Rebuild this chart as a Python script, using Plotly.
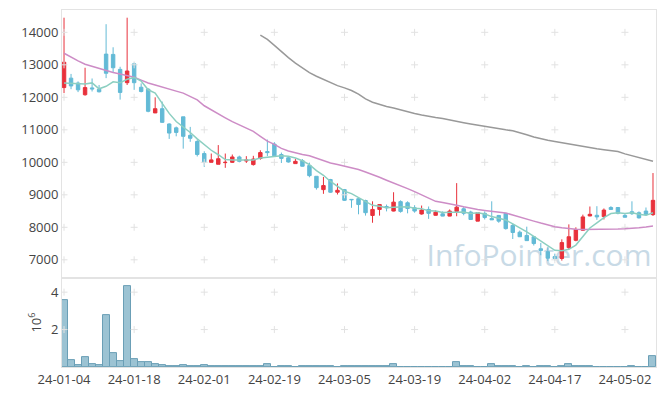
import plotly.graph_objects as go

dates = [
    "24-01-04","24-01-05","24-01-08","24-01-09","24-01-10","24-01-11","24-01-12","24-01-15","24-01-16","24-01-17",
    "24-01-18","24-01-19","24-01-22","24-01-23","24-01-24","24-01-25","24-01-26","24-01-29","24-01-30","24-01-31",
    "24-02-01","24-02-02","24-02-05","24-02-06","24-02-07","24-02-08","24-02-13","24-02-14","24-02-15","24-02-16",
    "24-02-19","24-02-20","24-02-21","24-02-22","24-02-23","24-02-26","24-02-27","24-02-28","24-02-29","24-03-04",
    "24-03-05","24-03-06","24-03-07","24-03-08","24-03-11","24-03-12","24-03-13","24-03-14","24-03-15","24-03-18",
    "24-03-19","24-03-20","24-03-21","24-03-22","24-03-25","24-03-26","24-03-27","24-03-28","24-03-29","24-04-01",
    "24-04-02","24-04-03","24-04-04","24-04-05","24-04-08","24-04-09","24-04-11","24-04-12","24-04-15","24-04-16",
    "24-04-17","24-04-18","24-04-19","24-04-22","24-04-23","24-04-24","24-04-25","24-04-26","24-04-29","24-04-30",
    "24-05-02","24-05-03","24-05-07","24-05-08","24-05-09",
]

opens = [12300,12590,12440,12080,12290,12250,13330,13320,12860,12450,
         13030,12310,12250,11520,11650,11180,11060,11400,10830,10640,
         10270,10000,9940,9990,10000,10165,10040,9930,10120,10330,
         10560,10240,10140,9960,10050,9900,9570,9160,9470,9080,
         9160,8860,8880,8825,8365,8550,8640,8500,8790,8755,
         8600,8410,8550,8370,8415,8345,8490,8570,8470,8190,
         8430,8270,8365,8430,8060,7850,7750,7710,7340,7250,
         7100,7040,7375,7600,7910,8350,8370,8330,8610,8610,
         8365,8480,8450,8500,8390]
highs = [14450,12720,12490,12910,12580,12380,14250,13540,12940,14450,
         13070,12430,12280,12000,11870,11200,11100,11400,11090,10700,
         10340,10270,10530,10270,10240,10205,10190,10200,10370,10700,
         10620,10300,10170,10100,10100,9990,9570,9550,9490,9350,
         9180,8870,8910,8850,8800,8700,8700,9080,8830,8800,
         8680,8670,8640,8520,8490,8550,9360,8620,8510,8460,
         8490,8800,8380,8430,8110,7900,8020,7720,7520,7380,
         7190,7630,8090,8000,8390,8640,8650,8580,8650,8620,
         8430,8800,8490,8610,9670]
lows = [12130,12250,12160,12050,12180,12150,12590,12760,11930,12380,
        12230,12150,11540,11515,11210,10720,10800,10420,10630,10180,
        9860,10000,9940,9830,9980,10000,9980,9900,10080,10190,
        10190,9980,9990,9960,9870,9540,9160,9030,9060,9010,
        8810,8600,8400,8360,8140,8360,8490,8490,8450,8430,
        8450,8390,8260,8360,8340,8340,8340,8370,8240,8190,
        8240,8230,8140,7930,7640,7700,7580,7440,7140,6960,
        6980,6975,7320,7570,7890,8340,8230,8240,8540,8400,
        8300,8380,8270,8350,8350]
closes = [13080,12350,12230,12300,12260,12170,12740,12910,12150,12810,
          12450,12180,11570,11650,11230,10900,10920,10800,10740,10240,
          10000,10075,10110,10000,10165,10030,10070,10100,10300,10300,
          10200,10120,10010,10030,9880,9590,9220,9285,9080,9140,
          8830,8850,8700,8450,8550,8700,8600,8775,8490,8580,
          8500,8530,8430,8466,8345,8500,8620,8430,8240,8450,
          8300,8230,8190,7960,7840,7710,7590,7500,7290,7050,
          7040,7530,7710,7935,8320,8400,8320,8530,8550,8430,
          8310,8420,8290,8390,8830]

ma5 = [12440,12430,12420,12410,12444,12262,12340,12476,12446,12556,
       12612,12500,12232,12132,11816,11506,11254,11100,10918,10720,
       10540,10371,10233,10085,10070,10076,10075,10073,10133,10160,
       10194,10204,10186,10132,10048,9926,9746,9601,9411,9263,
       9111,9037,8920,8794,8676,8650,8600,8615,8623,8629,
       8589,8575,8506,8501,8454,8454,8472,8472,8427,8448,
       8408,8330,8282,8226,8104,7986,7858,7720,7586,7428,
       7294,7282,7324,7453,7707,7979,8137,8301,8424,8446,
       8428,8448,8400,8368,8448]
ma20 = [13356,13230,13120,13018,12950,12890,12820,12761,12720,12670,
        12620,12530,12440,12380,12310,12250,12190,12130,12030,11920,
        11740,11610,11490,11370,11250,11150,11050,10950,10800,10650,
        10550,10430,10350,10290,10240,10200,10120,10050,9980,9930,
        9880,9830,9780,9700,9630,9540,9450,9370,9280,9190,
        9100,9000,8900,8800,8760,8730,8680,8630,8580,8550,
        8520,8500,8470,8440,8380,8310,8240,8190,8130,8070,
        8020,7990,7960,7940,7930,7930,7930,7935,7940,7945,
        7955,7965,7985,8010,8040]
ma60 = [None]*28 + [
        13917,13780,13600,13400,13220,13050,12900,12760,12650,12550,
        12460,12360,12290,12210,12100,11950,11850,11780,11720,11670,
        11610,11550,11500,11455,11410,11380,11350,11300,11260,11220,
        11180,11140,11100,11070,11040,11000,10970,10920,10850,10780,
        10720,10680,10640,10600,10560,10530,10490,10450,10420,10390,
        10360,10330,10260,10200,10150,10090,10030]

volume_m = [3.59,0.39,0.12,0.53,0.16,0.11,2.79,0.75,0.34,4.34,
            0.43,0.27,0.27,0.16,0.11,0.05,0.05,0.10,0.05,0.05,
            0.10,0.05,0.05,0.05,0.05,0.05,0.05,0.05,0.05,0.16,
            0,0.05,0.05,0,0.05,0.05,0.05,0.05,0.05,0,
            0.05,0.05,0.05,0.05,0.05,0.05,0.05,0.16,0,0,
            0,0,0,0,0,0,0.27,0.05,0.05,0,
            0,0.16,0.05,0.05,0.05,0,0.05,0,0.05,0.05,
            0,0.05,0.16,0.05,0.05,0.05,0,0,0,0,
            0,0.05,0,0,0.60]

tick_dates = ["24-01-04","24-01-18","24-02-01","24-02-19","24-03-05",
              "24-03-19","24-04-02","24-04-17","24-05-02"]
price_ticks = [7000, 8000, 9000, 10000, 11000, 12000, 13000, 14000]
vol_ticks = [2, 4]

UP = "#e8313b"
DOWN = "#63bad6"
FONT = "Open Sans"
TXT = "#444444"

fig = go.Figure()

cross = dict(symbol="cross-thin", size=5, color="#e2e2e2",
             line=dict(color="#e2e2e2", width=1))
fig.add_trace(go.Scatter(
    x=[d for d in tick_dates for _ in price_ticks],
    y=[p for _ in tick_dates for p in price_ticks],
    mode="markers", marker=cross, xaxis="x", yaxis="y",
    hoverinfo="skip", showlegend=False))
fig.add_trace(go.Scatter(
    x=[d for d in tick_dates for _ in vol_ticks],
    y=[v for _ in tick_dates for v in vol_ticks],
    mode="markers", marker=cross, xaxis="x2", yaxis="y2",
    hoverinfo="skip", showlegend=False))

fig.add_trace(go.Scatter(x=dates, y=ma60, mode="lines",
                         line=dict(color="#999999", width=1.5),
                         xaxis="x", yaxis="y", showlegend=False))
fig.add_trace(go.Scatter(x=dates, y=ma20, mode="lines",
                         line=dict(color="#cd8cc6", width=1.5),
                         xaxis="x", yaxis="y", showlegend=False))

fig.add_trace(go.Candlestick(
    x=dates, open=opens, high=highs, low=lows, close=closes,
    increasing=dict(line=dict(color=UP, width=1), fillcolor=UP),
    decreasing=dict(line=dict(color=DOWN, width=1), fillcolor=DOWN),
    whiskerwidth=0, xaxis="x", yaxis="y", showlegend=False))

fig.add_trace(go.Scatter(x=dates, y=ma5, mode="lines",
                         line=dict(color="#8ccfc1", width=1.5),
                         xaxis="x", yaxis="y", showlegend=False))

fig.add_trace(go.Bar(x=dates, y=volume_m,
                     marker=dict(color="#9cc3d3",
                                 line=dict(color="#6b9fb6", width=1)),
                     xaxis="x2", yaxis="y2", showlegend=False))

axis_common = dict(type="category", categoryorder="array", categoryarray=dates,
                   range=[-0.29, 84.43],
                   showgrid=False, zeroline=False,
                   showline=True, mirror=True, linecolor="#e3e3e3", linewidth=1,
                   tickvals=tick_dates, ticktext=tick_dates, tickangle=0)

fig.update_layout(
    width=665, height=396,
    margin=dict(l=62, r=9, t=10, b=29),
    paper_bgcolor="white", plot_bgcolor="white",
    hovermode=False, bargap=0,
    font=dict(family=FONT, size=13, color=TXT),
    xaxis=dict(**axis_common, anchor="y", showticklabels=False,
               rangeslider=dict(visible=False)),
    xaxis2=dict(**axis_common, anchor="y2",
                showticklabels=True, ticks="",
                tickfont=dict(family=FONT, size=13, color=TXT)),
    yaxis=dict(domain=[0.249, 1], range=[6437, 14687],
               tickvals=price_ticks, tickformat="d",
               showgrid=False, zeroline=False,
               showline=True, mirror=True, linecolor="#e3e3e3",
               ticks="", tickfont=dict(family=FONT, size=13, color=TXT)),
    yaxis2=dict(domain=[0, 0.249], range=[0, 4.75],
                tickvals=vol_ticks, tickformat="d",
                showgrid=False, zeroline=False,
                showline=True, mirror=True, linecolor="#e3e3e3",
                ticks="", tickfont=dict(family=FONT, size=13, color=TXT),
                title=dict(text="10<sup>6</sup>", standoff=6,
                           font=dict(family=FONT, size=13, color=TXT))),
    shapes=[dict(type="rect", xref="paper", yref="paper",
                 x0=0.606, x1=1.0, y0=0.26, y1=0.358,
                 line=dict(width=0), fillcolor="rgba(0,0,0,0)", layer="below",
                 label=dict(text="InfoPointer.com", textposition="middle center",
                            font=dict(family=FONT, size=30, color="#c8dae6")))],
)

fig.write_html("out.html", config={"displayModeBar": False},
               post_script="document.body.style.margin='0px';document.body.style.padding='0px';")
